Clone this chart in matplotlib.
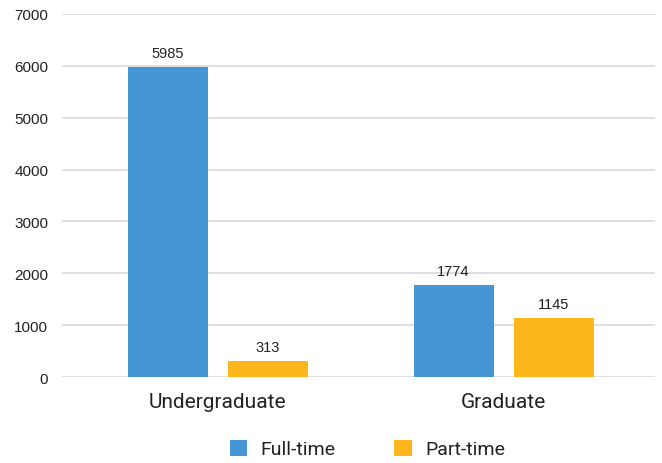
import matplotlib.pyplot as plt
import numpy as np

categories = ['Undergraduate', 'Graduate']
full_time = [5985, 1774]
part_time = [313, 1145]
series_names = ['Full-time', 'Part-time']

blue = '#4496d5'
orange = '#fdb71c'

fig = plt.figure(figsize=(6.62, 4.64), dpi=100)
ax = fig.add_axes([0.0937, 0.185, 0.895, 0.783])

x = np.arange(len(categories))
w = 0.28
off = 0.175
b1 = ax.bar(x - off, full_time, w, color=blue, label=series_names[0], zorder=3)
b2 = ax.bar(x + off, part_time, w, color=orange, label=series_names[1], zorder=3)

for bars in (b1, b2):
    for rect in bars:
        h = rect.get_height()
        ax.annotate(str(int(h)), (rect.get_x() + rect.get_width() / 2, h),
                    xytext=(0, 5), textcoords='offset points',
                    ha='center', va='bottom', fontsize=10.5,
                    family='Liberation Sans', color='#222222')

ax.set_ylim(0, 7000)
ax.set_xlim(-0.545, 1.528)
ax.set_yticks(range(0, 7001, 1000))
ax.yaxis.grid(True, color='#d9d9d9', linewidth=1.2, zorder=0)
ax.set_axisbelow(True)
for s in ax.spines.values():
    s.set_visible(False)
ax.tick_params(axis='both', length=0)
ax.tick_params(axis='y', pad=10)
ax.tick_params(axis='x', pad=10.5)
for lab in ax.get_yticklabels():
    lab.set_family('Liberation Sans')
    lab.set_fontsize(11)
    lab.set_color('#222222')
ax.set_xticks(x)
ax.set_xticklabels(categories, family='Roboto', fontsize=15, color='#222222')

leg = fig.legend(handles=[b1, b2], loc='center', bbox_to_anchor=(0.555, 0.03),
                 ncol=2, frameon=False, prop={'family': 'Roboto', 'size': 14},
                 handlelength=0.9, handleheight=0.9, columnspacing=3.0,
                 handletextpad=0.7, labelcolor='#222222')

fig.savefig('out.png', dpi=100)
